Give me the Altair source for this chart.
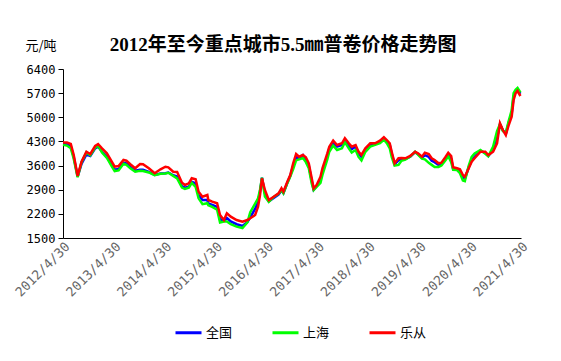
import altair as alt
import pandas as pd

# week index since 2012/4/30 for each observation
weeks = [0, 4, 8, 11, 15, 19, 24, 28, 33, 36, 40, 45, 50, 53, 57, 62, 65, 69, 74, 79,
         82, 88, 94, 100, 105, 108, 113, 117, 122, 125, 129, 132, 136, 139, 143, 148, 149, 153, 158, 161,
         165, 168, 172, 178, 184, 189, 192, 197, 200, 202, 204, 207, 211, 216, 221, 224, 226, 230, 233, 236,
         239, 242, 246, 249, 252, 255, 257, 260, 264, 266, 271, 273, 277, 281, 286, 289, 293, 296, 300, 303,
         306, 310, 315, 320, 325, 329, 332, 335, 337, 340, 344, 347, 351, 356, 361, 364, 368, 371, 375, 378,
         381, 385, 388, 392, 395, 398, 400, 404, 407, 410, 412, 416, 419, 422, 428, 433, 436, 441, 445, 448,
         451, 454, 457, 460, 462, 464, 466, 469]

lecong = [4270, 4270, 4225, 3907, 3298, 3712, 4002, 3936, 4168, 4225, 4101, 3956, 3712, 3567, 3588, 3762, 3741, 3637, 3521, 3646,
          3637, 3521, 3376, 3492, 3567, 3550, 3423, 3414, 3104, 3037, 3086, 3231, 3202, 2843, 2698, 2747, 2602, 2553, 2506, 2167,
          2022, 2216, 2118, 2022, 1973, 2022, 2071, 2167, 2408, 2747, 3231, 2892, 2602, 2698, 2796, 2941, 2843, 3133, 3327, 3666,
          3936, 3858, 3907, 3840, 3666, 3231, 2941, 3037, 3278, 3521, 3956, 4148, 4322, 4196, 4246, 4391, 4246, 4148, 4196, 4002,
          3907, 4101, 4246, 4246, 4322, 4420, 4341, 4246, 4002, 3666, 3811, 3820, 3811, 3878, 4002, 3956, 3858, 3973, 3936, 3811,
          3762, 3666, 3683, 3840, 3973, 3878, 3550, 3521, 3492, 3327, 3278, 3521, 3712, 3811, 4002, 4002, 3907, 4002, 4246, 4826,
          4631, 4486, 4776, 5017, 5501, 5695, 5762, 5617]

quanguo = [4230, 4220, 4160, 3850, 3280, 3650, 3920, 3880, 4100, 4150, 4000, 3860, 3620, 3480, 3500, 3680, 3660, 3560, 3450, 3480,
           3480, 3420, 3330, 3370, 3380, 3400, 3320, 3280, 3000, 2960, 2990, 3130, 3080, 2740, 2600, 2600, 2500, 2460, 2400, 2050,
           2000, 2080, 1980, 1900, 1850, 1960, 2100, 2350, 2550, 2850, 3250, 2800, 2560, 2660, 2760, 2880, 2800, 3100, 3300, 3600,
           3850, 3800, 3900, 3780, 3600, 3150, 2900, 3000, 3200, 3430, 3880, 4100, 4250, 4150, 4200, 4330, 4180, 4080, 4150, 3950,
           3850, 4050, 4200, 4220, 4280, 4380, 4300, 4200, 3950, 3640, 3750, 3780, 3790, 3860, 3990, 3930, 3830, 3900, 3850, 3740,
           3700, 3620, 3650, 3800, 3920, 3800, 3500, 3480, 3430, 3250, 3220, 3550, 3750, 3850, 4030, 3960, 3880, 4050, 4400, 4800,
           4620, 4520, 4850, 5100, 5600, 5760, 5800, 5680]

shanghai = [4200, 4180, 4100, 3800, 3260, 3700, 3980, 3900, 4120, 4180, 3980, 3820, 3580, 3440, 3460, 3650, 3620, 3520, 3420, 3450,
            3440, 3400, 3320, 3360, 3370, 3390, 3300, 3230, 2960, 2920, 2960, 3100, 2980, 2650, 2480, 2510, 2450, 2400, 2320, 1950,
            1980, 1980, 1900, 1830, 1790, 1950, 2250, 2500, 2650, 2900, 3250, 2700, 2550, 2690, 2780, 2890, 2800, 3090, 3280, 3500,
            3750, 3780, 3820, 3700, 3520, 3080, 2890, 2980, 3100, 3330, 3780, 4000, 4180, 4050, 4100, 4280, 4100, 3980, 4050, 3850,
            3750, 4000, 4150, 4200, 4250, 4350, 4250, 4100, 3850, 3600, 3620, 3740, 3770, 3860, 4000, 3920, 3800, 3780, 3680, 3620,
            3560, 3560, 3600, 3750, 3870, 3700, 3480, 3470, 3380, 3170, 3150, 3600, 3850, 3950, 4050, 3940, 3870, 4150, 4600, 4800,
            4600, 4560, 4900, 5200, 5700, 5800, 5850, 5720]

series = ["全国", "上海", "乐从"]
colors = ["#0000FF", "#00FF00", "#FF0000"]
years = list(range(2012, 2022))
y_ticks = [1500, 2200, 2900, 3600, 4300, 5000, 5700, 6400]

start = pd.Timestamp("2012-04-30")
tick_weeks = [(pd.Timestamp(f"{y}-04-30") - start).days / 7 for y in years]
end_week = tick_weeks[-1]

rows = []
for order, (name, vals) in enumerate(zip(series, [quanguo, shanghai, lecong])):
    for w, v in zip(weeks, vals):
        rows.append({"week": w, "price": v, "city": name, "ord": order})
df = pd.DataFrame(rows)

cjk = "Noto Sans CJK SC"
mono = "DejaVu Sans Mono"

chart = alt.Chart(df).mark_line(strokeWidth=2.5).encode(
    x=alt.X("week:Q",
            scale=alt.Scale(domain=[0, end_week], nice=False, zero=False),
            axis=alt.Axis(values=tick_weeks,
                          labelExpr="toString(2012 + round(datum.value / 52.18)) + '/4/30'",
                          labelAngle=-45, labelAlign="right", labelBaseline="top",
                          ticks=False, grid=False, domainColor="#000000", domainWidth=1,
                          labelColor="#666666", labelFontSize=13, labelFont=mono,
                          labelPadding=2, labelOverlap=False, title=None)),
    y=alt.Y("price:Q",
            scale=alt.Scale(domain=[1500, 6400], nice=False, zero=False),
            axis=alt.Axis(values=y_ticks, format="d", grid=False, tickSize=5, tickColor="#000000",
                          domainColor="#000000", labelColor="#000000", labelFontSize=12,
                          labelFont=mono, labelPadding=3,
                          title="元/吨", titleAngle=0, titleAlign="left", titleBaseline="middle",
                          titleX=-38, titleY=-24, titleFont=cjk, titleFontSize=13,
                          titleFontWeight="normal", titleColor="#000000")),
    color=alt.Color("city:N",
                    scale=alt.Scale(domain=series, range=colors),
                    legend=alt.Legend(orient="none", direction="horizontal", legendX=111, legendY=249,
                                      title=None, symbolType="stroke", symbolStrokeWidth=3,
                                      symbolSize=676, labelFontSize=13, labelFont=cjk,
                                      labelColor="#000000", labelOffset=3, columnPadding=33,
                                      padding=0)),
    order=alt.Order("ord:Q"),
).properties(
    width=458,
    height=169,
    padding={"left": 55, "top": 61, "right": 30, "bottom": 110},
    autosize=alt.AutoSizeParams(type="none"),
    title=alt.TitleParams(text="2012年至今重点城市5.5㎜普卷价格走势图",
                          font="Liberation Serif, Noto Sans CJK SC", fontSize=19,
                          fontWeight="bold", color="#000000", anchor="middle", frame="group",
                          dx=-9, offset=-35, baseline="bottom"),
).configure_view(stroke=None)

chart.save("out.html", embed_options={"renderer": "svg", "actions": False})
